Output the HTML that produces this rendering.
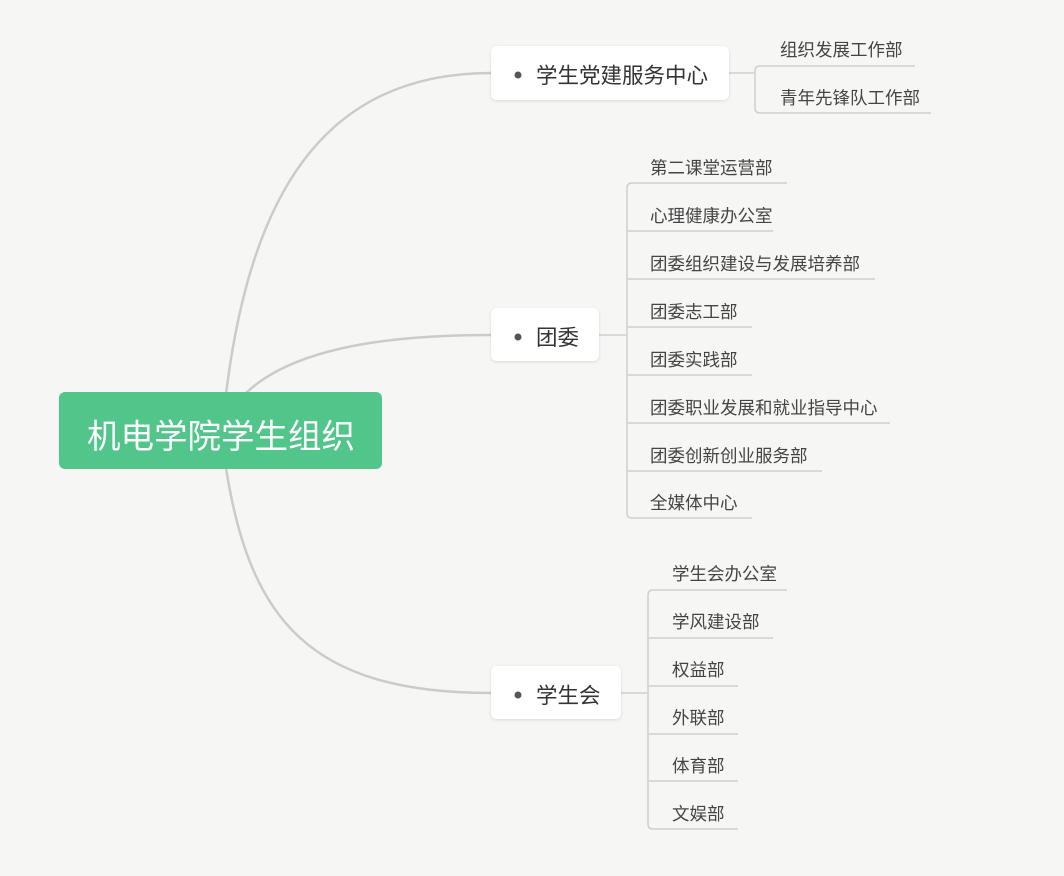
<!DOCTYPE html>
<html><head><meta charset="utf-8"><style>
html,body{margin:0;padding:0;background:#f6f7f5;}
svg{display:block;font-family:"Liberation Sans","Noto Sans CJK SC",sans-serif;}
.c{font-size:17.5px;fill:#444;}
.m{font-size:21.5px;fill:#333;}
</style></head><body>
<svg width="1064" height="876" viewBox="0 0 1064 876">
<defs><filter id="s" x="-10%" y="-20%" width="120%" height="150%"><feDropShadow dx="0" dy="1" stdDeviation="1.5" flood-color="#000" flood-opacity="0.12"/></filter></defs>
<g fill="none" stroke="#cbcbc7" stroke-width="2.5">
<path d="M226 394 C250 200 320 73 491 73"/>
<path d="M245 394 C290 350 380 335 491 335"/>
<path d="M226 468 C250 620 310 693 491 693"/>
</g>
<g fill="none" stroke="#cfcfcb" stroke-width="1.5">
<path d="M729 73 H755"/>
<path d="M915 66 H760 Q755 66 755 71 V108 Q755 113 760 113 H931"/>
<path d="M599 335 H627"/>
<path d="M787 183 H632 Q627 183 627 188 V513 Q627 518 632 518 H752"/>
<path d="M627 231 H773 M627 279 H875 M627 327 H752 M627 375 H752 M627 423 H890 M627 471 H822"/>
<path d="M621 693 H648"/>
<path d="M787 590 H653 Q648 590 648 595 V824 Q648 829 653 829 H738"/>
<path d="M648 638 H773 M648 686 H738 M648 734 H738 M648 781 H738"/>
</g>
<rect x="59" y="392" width="323" height="77" rx="6" fill="#52c58a"/>
<text x="221" y="448" text-anchor="middle" font-size="33.5" fill="#fff">机电学院学生组织</text>
<rect x="491" y="46" width="238" height="54" rx="6" fill="#fff" filter="url(#s)"/>
<circle cx="518" cy="75" r="3.5" fill="#555"/>
<text x="536" y="83" class="m">学生党建服务中心</text>
<rect x="491" y="308" width="108" height="53" rx="6" fill="#fff" filter="url(#s)"/>
<circle cx="518" cy="337" r="3.5" fill="#555"/>
<text x="536" y="345" class="m">团委</text>
<rect x="491" y="666" width="130" height="53" rx="6" fill="#fff" filter="url(#s)"/>
<circle cx="518" cy="695" r="3.5" fill="#555"/>
<text x="536" y="703" class="m">学生会</text>
<text x="780" y="56" class="c">组织发展工作部</text>
<text x="780" y="104" class="c">青年先锋队工作部</text>
<text x="650" y="174" class="c">第二课堂运营部</text>
<text x="650" y="222" class="c">心理健康办公室</text>
<text x="650" y="270" class="c">团委组织建设与发展培养部</text>
<text x="650" y="318" class="c">团委志工部</text>
<text x="650" y="366" class="c">团委实践部</text>
<text x="650" y="414" class="c">团委职业发展和就业指导中心</text>
<text x="650" y="462" class="c">团委创新创业服务部</text>
<text x="650" y="509" class="c">全媒体中心</text>
<text x="672" y="580" class="c">学生会办公室</text>
<text x="672" y="628" class="c">学风建设部</text>
<text x="672" y="676" class="c">权益部</text>
<text x="672" y="724" class="c">外联部</text>
<text x="672" y="772" class="c">体育部</text>
<text x="672" y="820" class="c">文娱部</text>
</svg>
</body></html>
